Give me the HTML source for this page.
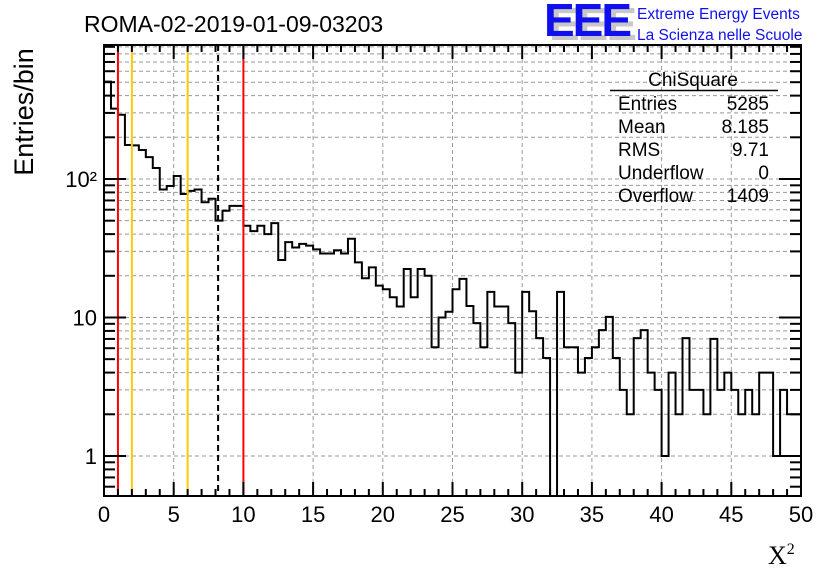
<!DOCTYPE html>
<html><head><meta charset="utf-8"><style>
html,body{margin:0;padding:0;background:#fff;}
svg{display:block;font-family:"Liberation Sans",sans-serif;}
</style></head><body>
<svg id="c" width="836" height="572" viewBox="0 0 836 572">
<rect width="836" height="572" fill="#fff"/>
<text x="84" y="32" font-size="23">ROMA-02-2019-01-09-03203</text>
<g>
<text x="549" y="40" font-size="46" font-weight="bold" fill="#c8c8c8" letter-spacing="-2">EEE</text>
<text x="544" y="36" font-size="46" font-weight="bold" fill="#1010ee" letter-spacing="-2">EEE</text>
<text x="637" y="19" font-size="15.5" fill="#1010ee">Extreme Energy Events</text>
<text x="637" y="40" font-size="15.5" fill="#1010ee">La Scienza nelle Scuole</text>
</g>
<g id="grid"></g>
<g id="marks"></g>
<g id="vlines"></g>
<g id="axes"></g>
<g font-size="19">
<text x="693" y="86" text-anchor="middle">ChiSquare</text>
<line x1="610" y1="90.5" x2="778" y2="90.5" stroke="#000" stroke-width="1.5"/>
<text x="618" y="110">Entries</text><text x="769" y="110" text-anchor="end">5285</text>
<text x="618" y="133">Mean</text><text x="769" y="133" text-anchor="end">8.185</text>
<text x="618" y="156">RMS</text><text x="769" y="156" text-anchor="end">9.71</text>
<text x="618" y="179">Underflow</text><text x="769" y="179" text-anchor="end">0</text>
<text x="618" y="202">Overflow</text><text x="769" y="202" text-anchor="end">1409</text>
</g>
<text transform="translate(33,112) rotate(-90)" font-size="27" text-anchor="middle">Entries/bin</text>
<text x="768" y="564" font-size="26" font-family="Liberation Serif,serif">X<tspan font-size="16" dy="-10">2</tspan></text>
</svg>
<script>
const binCounts=[505,322,291,176,175,162,144,120,84,89,105,78,82,84,68,72,50,59,64,64,
46,42,46,40,48,26,35,32,34,33,31,29,29,30.6,29,37,25,19.2,23,17,
16,14,12,22.4,14,22.4,20,6.1,10,11,16,19,12.1,9.1,6.1,15.3,12,12,9.1,4,
15.3,11.1,7.1,5.1,0,15.3,6.1,6.1,4,5.1,6.1,8.1,10.1,5.1,3,2,7.1,8.1,4,3,
1,4,2,7.1,3,3,2,7,3,4,3,2,3,2,4,4,1,3,2,2];
const xRange=[0,50];
const yRange=[0.514,928];
const xTicks=[0,5,10,15,20,25,30,35,40,45,50];
const yLabels=[{v:1,t:"1"},{v:10,t:"10"},{v:100,t:"10²"}];
const refLinesRed=[1,10];
const refLinesOrange=[2,6];
const meanValue=8.185;

const L=104,R=801,T=45,B=496;
const NS="http://www.w3.org/2000/svg";
const sx=v=>L+(v-xRange[0])/(xRange[1]-xRange[0])*(R-L);
const ly0=Math.log10(yRange[0]),ly1=Math.log10(yRange[1]);
const sy=v=>v<=0?B:Math.max(T,Math.min(B,B-(Math.log10(v)-ly0)/(ly1-ly0)*(B-T)));
function mk(tag,attrs,parent){const e=document.createElementNS(NS,tag);for(const k in attrs)e.setAttribute(k,attrs[k]);parent.appendChild(e);return e;}
const grid=document.getElementById('grid'),marks=document.getElementById('marks'),vl=document.getElementById('vlines'),ax=document.getElementById('axes');
for(let d=0;d<=2;d++)for(let m=1;m<=9;m++){const v=m*Math.pow(10,d);if(v<yRange[0]||v>yRange[1])continue;
 const g=mk('line',{x1:L,x2:R,y1:sy(v),y2:sy(v),stroke:'#999','stroke-dasharray':'4,3','stroke-width':1},grid);
 
 }
xTicks.forEach(t=>{if(t===xRange[0]||t===xRange[1])return;
 const g=mk('line',{x1:sx(t),x2:sx(t),y1:T,y2:B,stroke:'#999','stroke-dasharray':'4,3','stroke-width':1},grid);
 
 });
const bw=(xRange[1]-xRange[0])/binCounts.length;
let d='M'+sx(0)+','+B;
binCounts.forEach((c,i)=>{const y=sy(c);d+=' L'+sx(i*bw)+','+y+' L'+sx((i+1)*bw)+','+y;});
d+=' L'+sx(xRange[1])+','+B;
const h=mk('path',{d:d,fill:'none',stroke:'#000','stroke-width':2},marks);


refLinesRed.forEach(v=>{const e=mk('line',{x1:sx(v),x2:sx(v),y1:T,y2:B,stroke:'#f00','stroke-width':2},vl);
 
 });
refLinesOrange.forEach(v=>{const e=mk('line',{x1:sx(v),x2:sx(v),y1:T,y2:B,stroke:'#fc0','stroke-width':2},vl);
 
 });
const mline=mk('line',{x1:sx(meanValue),x2:sx(meanValue),y1:T,y2:B,stroke:'#000','stroke-width':2,'stroke-dasharray':'6,4'},vl);


const fr=mk('rect',{x:L,y:T,width:R-L,height:B-T,fill:'none',stroke:'#000','stroke-width':2},ax);


for(let v=0;v<=50.001;v+=1){const major=Math.abs(v%5)<1e-6;const len=major?14:7;const x=sx(v);
 mk('line',{x1:x,x2:x,y1:B,y2:B-len,stroke:'#000','stroke-width':2},ax);
 mk('line',{x1:x,x2:x,y1:T,y2:T+len,stroke:'#000','stroke-width':2},ax);}
xTicks.forEach(t=>{const e=mk('text',{x:sx(t),y:522,'font-size':22,'text-anchor':'middle'},ax);e.textContent=t;
 
 });
for(let dd=-1;dd<=2;dd++)for(let m=1;m<=9;m++){const v=m*Math.pow(10,dd);if(v<yRange[0]||v>yRange[1])continue;
 const len=m===1?22:11;const y=sy(v);
 mk('line',{x1:L,x2:L+len,y1:y,y2:y,stroke:'#000','stroke-width':2},ax);
 mk('line',{x1:R,x2:R-len,y1:y,y2:y,stroke:'#000','stroke-width':2},ax);}
yLabels.forEach(o=>{const e=mk('text',{x:97,y:sy(o.v)+8,'font-size':22,'text-anchor':'end'},ax);e.textContent=o.t;
 
 });
</script>
</body></html>
